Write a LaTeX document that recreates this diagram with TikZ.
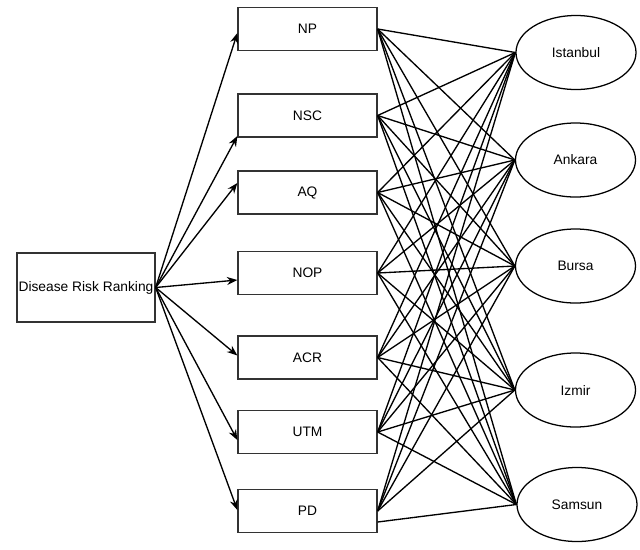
\documentclass[tikz,border=0pt]{standalone}
\usepackage{fontspec}
\setmainfont{Liberation Sans}
\usetikzlibrary{arrows.meta,calc,shapes.geometric}
\begin{document}
\begin{tikzpicture}[x=0.025cm, y=-0.025cm,
        every node/.style={font=\fontsize{9.8}{12}\selectfont},
        factor/.style={draw=black!80, line width=0.9pt, minimum width=3.475cm, minimum height=1.075cm, inner sep=0pt},
        city/.style={draw, ellipse, line width=0.9pt, minimum width=3cm, minimum height=1.85cm, inner sep=0pt},
        link/.style={line width=0.95pt},
        arr/.style={line width=0.95pt, -{Stealth[length=2.6mm,width=2mm]}}]
            \useasboundingbox (0, 0) rectangle (640, 549);
            \node[factor, minimum width=3.45cm, minimum height=1.725cm] (drr) at (86, 287.5) {Disease Risk Ranking};

            \node[factor] (np) at (307.5, 29) {NP};
            \node[factor] (nsc) at (307.5, 115.5) {NSC};
            \node[factor] (aq) at (307.5, 192.5) {AQ};
            \node[factor] (nop) at (307.5, 273) {NOP};
            \node[factor] (acr) at (307.5, 357.5) {ACR};
            \node[factor] (utm) at (307.5, 432) {UTM};
            \node[factor] (pd) at (307.5, 511) {PD};

            \node[city] (istanbul) at (576, 52.5) {Istanbul};
            \node[city] (ankara) at (575.5, 160) {Ankara};
            \node[city] (bursa) at (575.5, 266) {Bursa};
            \node[city] (izmir) at (575.5, 390) {Izmir};
            \node[city] (samsun) at (577, 504.5) {Samsun};

            % ranking to factors
            \draw[arr] (drr.east) -- ($(np.west)+(0, 4)$);
            \draw[arr] (drr.east) -- ($(nsc.west)+(0, 20.5)$);
            \draw[arr] (drr.east) -- ($(aq.west)+(0, -9.5)$);
            \draw[arr] (drr.east) -- ($(nop.west)+(0, 7)$);
            \draw[arr] (drr.east) -- ($(acr.west)+(0, -2)$);
            \draw[arr] (drr.east) -- ($(utm.west)+(0, 8)$);
            \draw[arr] (drr.east) -- ($(pd.west)+(0, -1)$);

            % factors to cities
            \foreach \f in {np, nsc, aq, nop, acr, utm}
                \foreach \c in {istanbul, ankara, bursa, izmir, samsun}
                    \draw[link] (\f.east) -- (\c.west);
            \foreach \c in {istanbul, ankara, bursa, izmir}
                \draw[link] (pd.east) -- (\c.west);
            \draw[link] ($(pd.east)+(0, 11)$) -- (samsun.west);
\end{tikzpicture}
\end{document}
